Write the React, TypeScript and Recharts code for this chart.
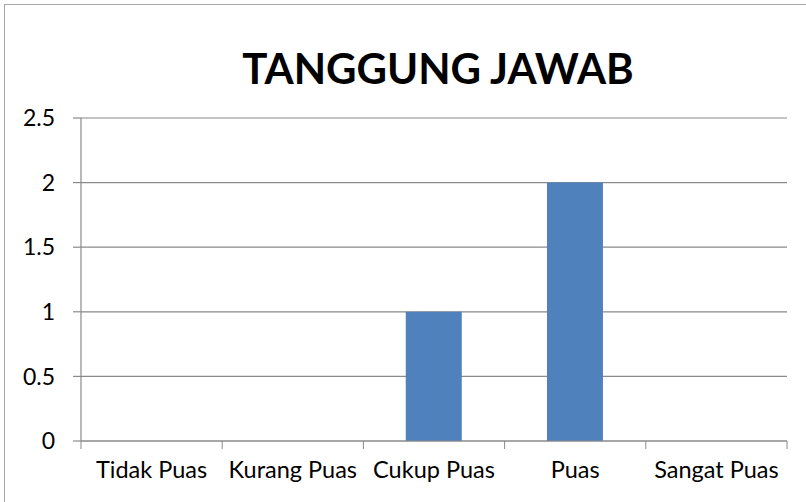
import { BarChart, Bar, XAxis, YAxis, CartesianGrid } from "recharts";

const categories = ["Tidak Puas", "Kurang Puas", "Cukup Puas", "Puas", "Sangat Puas"];
const values = [0, 0, 1, 2, 0];
const yTicks = [0, 0.5, 1, 1.5, 2, 2.5];

const chartData = categories.map((name, i) => ({ name, value: values[i] }));

const FONT = "Lato, 'Open Sans', sans-serif";
const LINE = "#8a8a8a";
const W = 806;
const H = 502;
const M = { top: 118, right: 19, bottom: 0, left: 0 };
const Y_W = 81;
const BAND = (W - M.left - M.right - Y_W) / categories.length;

// Excel-style category axis: tick marks sit between categories
function CategoryTick(props: any) {
  const { x, y, payload, index } = props;
  const last = index === categories.length - 1;
  return (
    <g>
      <line x1={x - BAND / 2} x2={x - BAND / 2} y1={y} y2={y + 8} stroke={LINE} />
      {last && (
        <line x1={x + BAND / 2} x2={x + BAND / 2} y1={y} y2={y + 8} stroke={LINE} />
      )}
      <text
        x={x}
        y={y + 37}
        textAnchor="middle"
        fill="#000"
        fontSize={23.5}
        fontFamily={FONT}
      >
        {payload.value}
      </text>
    </g>
  );
}

export default function App() {
  return (
    <div
      style={{
        position: "relative",
        width: W,
        height: H,
        overflow: "hidden",
        background: "#fff",
        fontFamily: FONT,
      }}
    >
      <style>{"body{margin:0}"}</style>
      <div
        style={{
          position: "absolute",
          left: 4,
          top: 4,
          width: 900,
          height: 600,
          border: "1.5px solid #a6a6a6",
        }}
      />
      <div
        style={{
          position: "absolute",
          left: 0,
          width: 876,
          top: 40,
          textAlign: "center",
          fontSize: 42,
          lineHeight: "56px",
          fontWeight: 700,
          color: "#000",
        }}
      >
        TANGGUNG JAWAB
      </div>
      <div style={{ position: "absolute", left: 0, top: 0 }}>
        <BarChart
          width={W}
          height={H}
          data={chartData}
          margin={M}
          barCategoryGap="30%"
        >
          <CartesianGrid vertical={false} stroke={LINE} strokeWidth={1.2} />
          <XAxis
            dataKey="name"
            height={61}
            stroke={LINE}
            strokeWidth={1.2}
            tickLine={false}
            tickSize={0}
            tickMargin={0}
            tick={<CategoryTick />}
            interval={0}
          />
          <YAxis
            width={Y_W}
            domain={[0, 2.5]}
            ticks={yTicks}
            stroke={LINE}
            strokeWidth={1.2}
            tickSize={8}
            tickMargin={18}
            tick={{ fill: "#000", fontSize: 23, fontFamily: FONT }}
          />
          <Bar dataKey="value" fill="#4F81BD" isAnimationActive={false} />
        </BarChart>
      </div>
    </div>
  );
}
